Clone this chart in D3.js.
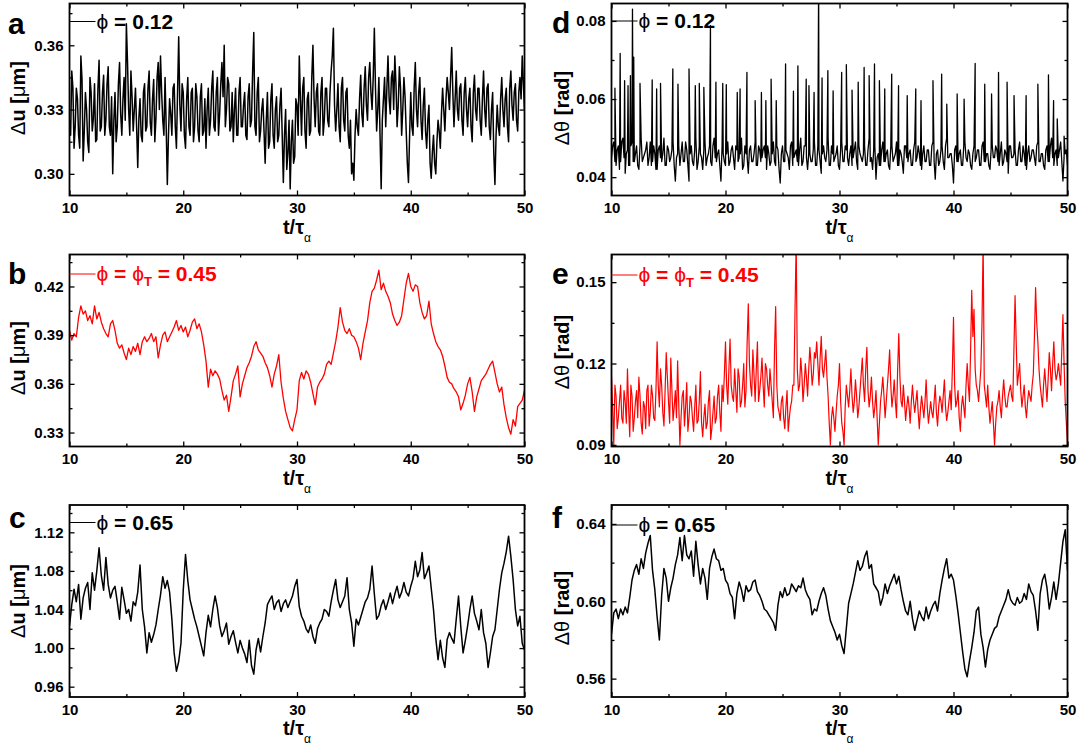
<!DOCTYPE html>
<html><head><meta charset="utf-8">
<script src="https://cdn.jsdelivr.net/npm/d3@7"></script>
<style>body{margin:0;background:#fff} svg text{font-family:"Liberation Sans",Arial,Helvetica,sans-serif}</style>
</head><body><svg id="chart" width="1080" height="749"></svg>
<script>
const T_START = 10, T_END = 50;
const xTicks = [10, 20, 30, 40, 50];
const xMinorTicks = [15, 25, 35, 45];

// panel a: Δu, φ = 0.12 — samples at t = 10, 10.2, ... 50
const seriesA = [
0.325,0.348,0.312,0.340,0.318,0.355,0.306,0.338,0.315,0.345,
0.320,0.342,0.316,0.353,0.322,0.346,0.325,0.350,0.318,0.300,
0.338,0.322,0.352,0.318,0.345,0.370,0.330,0.348,0.320,0.340,
0.303,0.335,0.315,0.342,0.322,0.348,0.318,0.344,0.326,0.352,
0.355,0.325,0.345,0.295,0.335,0.318,0.342,0.312,0.364,0.320,
0.338,0.312,0.345,0.318,0.340,0.322,0.336,0.315,0.342,0.320,
0.312,0.340,0.325,0.348,0.320,0.345,0.328,0.352,0.360,0.330,
0.342,0.322,0.315,0.340,0.318,0.345,0.322,0.338,0.316,0.342,
0.325,0.366,0.318,0.345,0.320,0.335,0.305,0.338,0.315,0.342,
0.312,0.336,0.318,0.340,0.296,0.330,0.310,0.293,0.325,0.308,
0.332,0.355,0.318,0.345,0.312,0.338,0.320,0.360,0.322,0.342,
0.318,0.345,0.325,0.340,0.322,0.348,0.368,0.320,0.342,0.315,
0.345,0.320,0.340,0.312,0.300,0.297,0.330,0.318,0.346,0.322,
0.350,0.325,0.352,0.330,0.368,0.320,0.345,0.293,0.335,0.322,
0.355,0.328,0.348,0.355,0.322,0.350,0.318,0.345,0.320,0.296,
0.338,0.318,0.352,0.322,0.345,0.316,0.340,0.312,0.332,0.298,
0.318,0.300,0.325,0.312,0.340,0.320,0.345,0.330,0.359,0.322,
0.348,0.325,0.342,0.318,0.345,0.322,0.340,0.315,0.346,0.325,
0.340,0.318,0.348,0.322,0.342,0.316,0.338,0.295,0.332,0.318,
0.345,0.322,0.340,0.315,0.348,0.325,0.342,0.320,0.345,0.355,0.330];
// panel a, in-between samples at t = 10.1, 10.3, ... 49.9
const seriesAMid = [
0.318,0.340,0.322,0.335,0.312,0.344,0.320,0.330,0.310,0.338,
0.326,0.315,0.340,0.320,0.338,0.318,0.342,0.322,0.336,0.325,
0.315,0.342,0.328,0.335,0.325,0.352,0.318,0.336,0.330,0.322,
0.326,0.318,0.338,0.320,0.340,0.324,0.335,0.315,0.345,0.330,
0.338,0.318,0.322,0.318,0.328,0.340,0.322,0.338,0.332,0.342,
0.318,0.335,0.322,0.338,0.315,0.342,0.320,0.336,0.318,0.335,
0.330,0.318,0.340,0.322,0.338,0.318,0.342,0.336,0.322,0.345,
0.320,0.338,0.330,0.318,0.338,0.322,0.332,0.318,0.336,0.322,
0.348,0.322,0.338,0.315,0.330,0.320,0.325,0.312,0.335,0.318,
0.330,0.315,0.332,0.318,0.318,0.302,0.325,0.315,0.305,0.335,
0.318,0.335,0.340,0.320,0.335,0.318,0.345,0.335,0.338,0.320,
0.338,0.318,0.340,0.325,0.338,0.355,0.332,0.330,0.322,0.340,
0.325,0.338,0.318,0.325,0.305,0.318,0.322,0.335,0.328,0.340,
0.332,0.345,0.338,0.345,0.340,0.330,0.318,0.325,0.345,0.340,
0.335,0.345,0.330,0.342,0.332,0.340,0.330,0.336,0.305,0.318,
0.322,0.340,0.330,0.338,0.325,0.332,0.320,0.325,0.305,0.310,
0.305,0.315,0.320,0.328,0.330,0.335,0.338,0.345,0.338,0.335,
0.330,0.340,0.325,0.338,0.330,0.335,0.322,0.338,0.330,0.340,
0.325,0.335,0.330,0.340,0.322,0.330,0.310,0.318,0.322,0.335,
0.330,0.335,0.322,0.340,0.332,0.338,0.325,0.338,0.335,0.342];

// panel b: Δu, φ = φT = 0.45
const seriesB = [
0.393,0.387,0.391,0.389,0.401,0.408,0.403,0.405,0.399,0.402,
0.397,0.408,0.400,0.404,0.398,0.394,0.391,0.389,0.397,0.399,
0.393,0.385,0.382,0.384,0.379,0.375,0.382,0.378,0.383,0.380,
0.385,0.378,0.386,0.389,0.386,0.388,0.391,0.386,0.389,0.376,
0.384,0.390,0.392,0.386,0.389,0.392,0.395,0.399,0.393,0.396,
0.392,0.395,0.389,0.393,0.398,0.400,0.394,0.397,0.392,0.384,
0.374,0.358,0.369,0.365,0.368,0.366,0.363,0.356,0.350,0.353,
0.343,0.352,0.362,0.366,0.371,0.352,0.360,0.365,0.370,0.373,
0.377,0.383,0.386,0.381,0.379,0.377,0.373,0.370,0.365,0.358,
0.366,0.371,0.378,0.361,0.351,0.343,0.338,0.333,0.331,0.338,
0.344,0.362,0.367,0.363,0.368,0.366,0.361,0.354,0.347,0.358,
0.361,0.363,0.366,0.372,0.374,0.372,0.379,0.386,0.395,0.407,
0.398,0.393,0.391,0.394,0.390,0.389,0.386,0.382,0.375,0.385,
0.392,0.399,0.410,0.417,0.419,0.424,0.430,0.418,0.422,0.417,
0.414,0.410,0.403,0.399,0.396,0.398,0.402,0.412,0.422,0.428,
0.420,0.417,0.421,0.420,0.410,0.404,0.400,0.402,0.411,0.397,
0.391,0.386,0.383,0.381,0.377,0.371,0.364,0.361,0.360,0.357,
0.355,0.352,0.344,0.348,0.353,0.360,0.364,0.355,0.343,0.352,
0.357,0.362,0.364,0.366,0.369,0.372,0.374,0.367,0.360,0.355,
0.358,0.347,0.339,0.333,0.329,0.338,0.334,0.346,0.348,0.350,0.356];

// panel c: Δu, φ = 0.65
const seriesC = [
1.023,1.045,1.061,1.048,1.066,1.030,1.052,1.062,1.068,1.040,
1.078,1.060,1.080,1.104,1.075,1.060,1.094,1.066,1.052,1.060,
1.064,1.048,1.030,1.063,1.050,1.036,1.040,1.028,1.048,1.044,
1.058,1.086,1.040,1.022,0.995,1.016,1.006,1.014,1.024,1.040,
1.055,1.074,1.062,1.070,1.058,1.030,0.995,0.976,0.986,1.005,
1.060,1.097,1.070,1.050,1.040,1.030,1.022,1.012,1.002,0.992,
1.016,1.034,1.022,1.040,1.054,1.042,1.023,1.012,1.018,1.026,
1.004,1.012,1.018,1.006,0.995,1.008,1.000,0.994,0.985,1.008,
0.982,0.973,0.998,1.010,0.996,1.012,1.026,1.045,1.050,1.054,
1.040,1.047,1.050,1.038,1.046,1.050,1.042,1.048,1.054,1.064,
1.071,1.043,1.033,1.028,1.020,1.016,1.024,1.012,1.005,1.020,
1.026,1.030,1.040,1.038,1.033,1.048,1.060,1.071,1.050,1.042,
1.048,1.054,1.073,1.040,1.026,1.002,1.030,1.024,1.032,1.040,
1.048,1.052,1.061,1.085,1.056,1.030,1.034,1.044,1.050,1.040,
1.048,1.057,1.046,1.056,1.064,1.052,1.058,1.068,1.058,1.054,
1.064,1.072,1.090,1.074,1.081,1.099,1.072,1.078,1.085,1.062,
1.040,1.010,0.988,1.008,0.990,0.980,1.009,1.016,1.010,1.005,
1.030,1.054,1.022,0.995,1.008,1.023,1.040,1.054,1.036,1.028,
1.019,1.040,1.016,1.005,0.980,0.995,1.012,1.019,1.040,1.061,
1.078,1.088,1.100,1.116,1.095,1.071,1.040,1.023,1.033,1.005,0.998];

// panel d: Δθ, φ = 0.12 (baseline noise + sharp spikes)
const seriesDBase = [
0.045,0.049,0.043,0.048,0.044,0.050,0.041,0.047,0.043,0.049,
0.044,0.048,0.042,0.050,0.045,0.047,0.043,0.049,0.044,0.046,
0.042,0.048,0.044,0.050,0.043,0.047,0.045,0.049,0.039,0.046,
0.043,0.049,0.044,0.047,0.039,0.048,0.043,0.050,0.044,0.046,
0.042,0.049,0.045,0.048,0.043,0.050,0.044,0.047,0.039,0.046,
0.043,0.049,0.044,0.048,0.042,0.047,0.045,0.050,0.043,0.046,
0.041,0.048,0.044,0.049,0.043,0.047,0.045,0.048,0.042,0.046,
0.044,0.049,0.043,0.047,0.0385,0.048,0.044,0.046,0.042,0.049,
0.045,0.047,0.043,0.050,0.044,0.048,0.042,0.046,0.044,0.049,
0.043,0.047,0.041,0.048,0.044,0.050,0.043,0.046,0.045,0.048,
0.042,0.049,0.044,0.047,0.043,0.048,0.045,0.049,0.042,0.046,
0.044,0.048,0.043,0.050,0.045,0.047,0.0395,0.046,0.043,0.049,
0.044,0.047,0.042,0.048,0.045,0.049,0.043,0.046,0.041,0.048,
0.044,0.047,0.043,0.049,0.045,0.046,0.042,0.048,0.044,0.047,
0.043,0.049,0.0395,0.047,0.044,0.048,0.042,0.050,0.045,0.046,
0.0385,0.048,0.044,0.047,0.043,0.049,0.044,0.046,0.042,0.048,
0.045,0.047,0.043,0.049,0.044,0.046,0.042,0.048,0.045,0.047,
0.043,0.049,0.044,0.046,0.041,0.048,0.045,0.047,0.043,0.049,
0.044,0.046,0.042,0.048,0.045,0.047,0.043,0.049,0.044,0.046,
0.042,0.048,0.044,0.050,0.043,0.047,0.045,0.049,0.039,0.046,0.043];
const seriesDMid = [
0.048,0.044,0.047,0.042,0.049,0.045,0.046,0.043,0.048,0.044,
0.046,0.043,0.048,0.044,0.046,0.049,0.045,0.043,0.048,0.042,
0.047,0.045,0.046,0.043,0.048,0.044,0.047,0.043,0.045,0.048,
0.046,0.044,0.049,0.043,0.046,0.044,0.047,0.042,0.048,0.045,
0.047,0.043,0.046,0.044,0.048,0.045,0.046,0.043,0.048,0.044,
0.046,0.043,0.047,0.045,0.048,0.044,0.046,0.042,0.048,0.045,
0.047,0.044,0.046,0.043,0.048,0.044,0.047,0.045,0.048,0.043,
0.046,0.044,0.048,0.042,0.046,0.044,0.047,0.045,0.048,0.043,
0.046,0.044,0.047,0.043,0.048,0.045,0.046,0.044,0.047,0.043,
0.048,0.044,0.046,0.045,0.047,0.043,0.048,0.044,0.046,0.043,
0.047,0.044,0.048,0.045,0.046,0.043,0.047,0.044,0.048,0.045,
0.046,0.043,0.047,0.044,0.042,0.048,0.045,0.043,0.047,0.044,
0.046,0.043,0.048,0.044,0.046,0.043,0.047,0.044,0.048,0.045,
0.046,0.043,0.047,0.044,0.048,0.043,0.046,0.044,0.047,0.043,
0.048,0.044,0.046,0.043,0.047,0.044,0.048,0.045,0.046,0.043,
0.047,0.044,0.046,0.043,0.048,0.045,0.047,0.043,0.046,0.044,
0.047,0.043,0.048,0.044,0.046,0.043,0.047,0.045,0.048,0.044,
0.046,0.043,0.047,0.044,0.048,0.045,0.046,0.043,0.047,0.044,
0.048,0.043,0.046,0.044,0.047,0.045,0.048,0.044,0.046,0.043,
0.047,0.044,0.048,0.045,0.046,0.043,0.047,0.044,0.045,0.047];
const spikesD = [
[10.3,0.0628],[10.76,0.0717],[11.15,0.0647],[11.45,0.0634],[11.66,0.066],[11.84,0.083],[11.95,0.0707],
[12.5,0.064],[13.57,0.0649],[13.96,0.0626],[14.3,0.064],[15.38,0.0677],[15.83,0.0638],[16.8,0.0677],
[17.35,0.0634],[17.7,0.064],[18.1,0.063],[18.68,0.0788],[19.16,0.0643],[19.76,0.064],[20.07,0.0637],
[21.03,0.0617],[21.28,0.0626],[21.88,0.0668],[22.6,0.0596],[23.15,0.0617],[23.54,0.0596],[24.0,0.0651],
[24.45,0.0596],[25.27,0.069],[25.96,0.062],[26.35,0.0685],[27.08,0.0651],[27.32,0.0634],[27.77,0.0617],
[28.17,0.09],[28.47,0.0654],[28.98,0.0673],[29.44,0.0621],[30.19,0.0668],[30.6,0.0688],[31.1,0.0623],
[31.64,0.0643],[32.16,0.0681],[32.6,0.066],[33.07,0.069],[33.5,0.0647],[33.97,0.0626],[34.58,0.0664],
[35.18,0.0634],[35.94,0.0609],[36.69,0.0626],[37.15,0.0596],[38.2,0.0647],[38.96,0.0664],[39.41,0.0587],
[40.32,0.0613],[40.93,0.06],[41.9,0.0691],[42.74,0.0638],[43.34,0.0613],[43.95,0.0668],[44.7,0.0643],
[45.31,0.0609],[46.37,0.0609],[47.4,0.0638],[48.33,0.0662],[48.78,0.0596],[49.1,0.0549],[49.7,0.0505]];

// panel e: Δθ, φ = φT = 0.45
const seriesE = [
0.115,0.090,0.108,0.100,0.112,0.098,0.106,0.118,0.093,0.108,
0.100,0.110,0.115,0.098,0.106,0.096,0.112,0.102,0.108,0.099,
0.128,0.104,0.112,0.097,0.124,0.106,0.122,0.099,0.110,0.121,
0.090,0.108,0.097,0.113,0.100,0.106,0.095,0.112,0.099,0.117,
0.093,0.105,0.098,0.110,0.096,0.108,0.100,0.112,0.095,0.106,
0.128,0.105,0.129,0.108,0.118,0.102,0.115,0.106,0.120,0.110,
0.142,0.112,0.125,0.106,0.128,0.110,0.122,0.104,0.118,0.108,
0.112,0.100,0.141,0.104,0.099,0.108,0.096,0.110,0.100,0.106,
0.112,0.165,0.110,0.122,0.106,0.120,0.108,0.126,0.112,0.124,
0.128,0.112,0.130,0.115,0.125,0.108,0.090,0.104,0.095,0.108,
0.120,0.098,0.090,0.112,0.104,0.118,0.102,0.114,0.100,0.110,
0.122,0.106,0.126,0.104,0.115,0.100,0.110,0.090,0.106,0.115,
0.100,0.112,0.125,0.104,0.114,0.100,0.131,0.106,0.112,0.099,
0.108,0.098,0.112,0.102,0.110,0.096,0.108,0.100,0.114,0.098,
0.106,0.100,0.112,0.097,0.108,0.102,0.114,0.099,0.106,0.103,
0.137,0.104,0.110,0.095,0.108,0.100,0.120,0.106,0.147,0.140,
0.112,0.106,0.118,0.165,0.108,0.112,0.098,0.106,0.090,0.104,
0.110,0.100,0.114,0.104,0.108,0.112,0.106,0.145,0.112,0.120,
0.104,0.112,0.100,0.110,0.106,0.116,0.148,0.128,0.112,0.104,
0.118,0.106,0.124,0.110,0.128,0.114,0.120,0.112,0.138,0.106,0.090];
const seriesEMid = [
0.104,0.112,0.096,0.106,0.100,0.110,0.098,0.104,0.112,0.095,
0.106,0.100,0.108,0.094,0.104,0.110,0.097,0.112,0.100,0.110,
0.112,0.118,0.102,0.110,0.115,0.098,0.110,0.104,0.100,0.105,
0.100,0.110,0.104,0.095,0.108,0.100,0.104,0.098,0.106,0.098,
0.100,0.096,0.106,0.092,0.102,0.098,0.108,0.102,0.112,0.116,
0.112,0.118,0.112,0.106,0.110,0.118,0.104,0.112,0.104,0.128,
0.120,0.108,0.116,0.118,0.106,0.115,0.112,0.120,0.112,0.118,
0.106,0.125,0.112,0.102,0.106,0.100,0.104,0.095,0.104,0.112,
0.140,0.118,0.112,0.116,0.112,0.115,0.118,0.120,0.116,0.122,
0.120,0.122,0.118,0.120,0.115,0.098,0.100,0.100,0.102,0.112,
0.106,0.095,0.104,0.108,0.110,0.108,0.106,0.108,0.104,0.116,
0.112,0.118,0.110,0.108,0.106,0.104,0.100,0.098,0.110,0.108,
0.106,0.118,0.112,0.108,0.106,0.118,0.115,0.104,0.106,0.104,
0.104,0.106,0.106,0.106,0.102,0.103,0.104,0.106,0.104,0.102,
0.102,0.106,0.102,0.104,0.106,0.108,0.104,0.102,0.110,0.118,
0.112,0.106,0.100,0.104,0.104,0.112,0.112,0.125,0.130,0.118,
0.110,0.112,0.135,0.112,0.104,0.104,0.102,0.098,0.098,0.106,
0.104,0.108,0.108,0.104,0.110,0.108,0.125,0.128,0.116,0.110,
0.108,0.104,0.106,0.108,0.112,0.130,0.135,0.118,0.108,0.112,
0.112,0.114,0.118,0.120,0.118,0.116,0.116,0.125,0.120,0.098];

// panel f: Δθ, φ = 0.65
const seriesF = [
0.583,0.594,0.596,0.591,0.596,0.593,0.597,0.594,0.602,0.611,
0.616,0.619,0.614,0.622,0.617,0.625,0.630,0.634,0.616,0.606,
0.592,0.580,0.603,0.617,0.612,0.600,0.607,0.612,0.619,0.624,
0.633,0.621,0.634,0.624,0.622,0.626,0.613,0.631,0.619,0.609,
0.617,0.612,0.601,0.617,0.623,0.627,0.622,0.621,0.616,0.617,
0.611,0.609,0.604,0.602,0.591,0.604,0.610,0.606,0.600,0.608,
0.605,0.606,0.610,0.611,0.605,0.603,0.600,0.596,0.595,0.593,
0.591,0.589,0.585,0.598,0.605,0.602,0.607,0.603,0.604,0.609,
0.607,0.605,0.608,0.607,0.612,0.606,0.603,0.601,0.593,0.596,
0.595,0.600,0.604,0.607,0.603,0.596,0.590,0.587,0.584,0.580,
0.583,0.577,0.573,0.586,0.599,0.604,0.609,0.615,0.621,0.616,
0.618,0.623,0.626,0.617,0.619,0.609,0.607,0.605,0.598,0.602,
0.609,0.604,0.608,0.611,0.614,0.609,0.613,0.606,0.600,0.595,
0.593,0.600,0.591,0.585,0.590,0.595,0.592,0.590,0.597,0.591,
0.595,0.598,0.600,0.595,0.604,0.611,0.617,0.622,0.612,0.614,
0.611,0.603,0.594,0.584,0.574,0.565,0.561,0.569,0.576,0.584,
0.595,0.597,0.583,0.576,0.566,0.575,0.580,0.583,0.586,0.587,
0.592,0.595,0.598,0.601,0.606,0.601,0.599,0.598,0.602,0.599,
0.600,0.604,0.601,0.609,0.605,0.603,0.595,0.585,0.604,0.611,
0.614,0.607,0.596,0.602,0.610,0.601,0.609,0.620,0.631,0.637,0.616];

const ticksA = [0.30,0.33,0.36], minorA = [0.315,0.345,0.375];
const ticksB = [0.33,0.36,0.39,0.42], minorB = [0.345,0.375,0.405,0.435];
const ticksC = [0.96,1.00,1.04,1.08,1.12], minorC = [0.98,1.02,1.06,1.10,1.14];
const ticksD = [0.04,0.06,0.08], minorD = [0.05,0.07];
const ticksE = [0.09,0.12,0.15], minorE = [0.105,0.135];
const ticksF = [0.56,0.60,0.64], minorF = [0.58,0.62];

const legendA = "0.12", legendB = "0.45", legendC = "0.65";

// ---------- layout ----------
const COLS = [[69.5, 524.5], [611.5, 1067.5]];
const ROWS = [[3.5, 195.5], [254.5, 446.5], [505, 697]];
const FONT = '"Liberation Sans",Arial,Helvetica,sans-serif';

function build(base, mid, spikes) {
  const n = base.length, step = (T_END - T_START) / (n - 1);
  let pts = base.map((v, i) => ({ t: T_START + i * step, v }));
  if (mid) pts = pts.concat(mid.map((v, i) => ({ t: T_START + (i + 0.5) * step, v })));
  if (spikes) pts = pts.concat(spikes.map(s => ({ t: s[0], v: s[1] })));
  return pts.sort((a, b) => a.t - b.t);
}

const panels = [
  { id: 'a', col: 0, row: 0, pts: build(seriesA, seriesAMid), dom: [0.2899, 0.3795], ticks: ticksA, minor: minorA, color: '#000', sw: 1.5, leg: 'plain', legVal: legendA, quant: 'u', ylc: 98, legDy: 18, letterDy: 30, letterX: 8 },
  { id: 'b', col: 0, row: 1, pts: build(seriesB), dom: [0.3214, 0.4397], ticks: ticksB, minor: minorB, color: '#ff0000', sw: 1.3, leg: 'T', legVal: legendB, quant: 'u', ylc: 358, legDy: 19.5, letterDy: 29, letterX: 8 },
  { id: 'c', col: 0, row: 2, pts: build(seriesC), dom: [0.9493, 1.1483], ticks: ticksC, minor: minorC, color: '#000', sw: 1.5, leg: 'plain', legVal: legendC, quant: 'u', ylc: 601, legDy: 17.5, letterDy: 23, letterX: 9 },
  { id: 'd', col: 1, row: 0, pts: build(seriesDBase, seriesDMid, spikesD), dom: [0.03531, 0.08446], ticks: ticksD, minor: minorD, color: '#000', sw: 1.3, leg: 'plain', legVal: legendA, quant: 'th', ylc: 108, legDy: 17.5, letterDy: 29, letterX: 552 },
  { id: 'e', col: 1, row: 1, pts: build(seriesE, seriesEMid), dom: [0.0894, 0.1602], ticks: ticksE, minor: minorE, color: '#ff0000', sw: 1.2, leg: 'T', legVal: legendB, quant: 'th', ylc: 352, legDy: 20.5, letterDy: 29, letterX: 552 },
  { id: 'f', col: 1, row: 2, pts: build(seriesF), dom: [0.5505, 0.6498], ticks: ticksF, minor: minorF, color: '#000', sw: 1.5, leg: 'plain', legVal: legendC, quant: 'th', ylc: 608, legDy: 20, letterDy: 23, letterX: 552 }
];

const svg = d3.select('#chart');
const defs = svg.append('defs');

function styleAxis(g, size) {
  g.select('.domain').remove();
  g.selectAll('.tick line').attr('stroke', '#000').attr('stroke-width', 1.3);
  g.attr('font-family', FONT).attr('font-size', size).attr('font-weight', 'bold');
  g.selectAll('.tick text').attr('fill', '#000');
}

panels.forEach(p => {
  const [x0, x1] = COLS[p.col];
  const [y0, y1] = ROWS[p.row];
  const x = d3.scaleLinear().domain([T_START, T_END]).range([x0, x1]);
  const y = d3.scaleLinear().domain(p.dom).range([y1, y0]);
  const g = svg.append('g');

  defs.append('clipPath').attr('id', 'clip-' + p.id)
    .append('rect').attr('x', x0).attr('y', y0).attr('width', x1 - x0).attr('height', y1 - y0);

  const line = d3.line().x(d => x(d.t)).y(d => y(d.v));
  g.append('path').datum(p.pts)
    .attr('clip-path', 'url(#clip-' + p.id + ')')
    .attr('fill', 'none').attr('stroke', p.color).attr('stroke-width', p.sw)
    .attr('stroke-linejoin', 'round').attr('d', line);

  const fmt = d3.format('.2f');
  const inDom = v => v >= p.dom[0] && v <= p.dom[1];
  styleAxis(g.append('g').attr('transform', `translate(0,${y1})`)
    .call(d3.axisBottom(x).tickValues(xTicks).tickSize(-5).tickPadding(7).tickFormat(d3.format('d'))), 15);
  styleAxis(g.append('g').attr('transform', `translate(0,${y1})`)
    .call(d3.axisBottom(x).tickValues(xMinorTicks).tickSize(-3).tickFormat('')), 15);
  styleAxis(g.append('g').attr('transform', `translate(0,${y0})`)
    .call(d3.axisTop(x).tickValues(xTicks).tickSize(-5).tickFormat('')), 15);
  styleAxis(g.append('g').attr('transform', `translate(0,${y0})`)
    .call(d3.axisTop(x).tickValues(xMinorTicks).tickSize(-3).tickFormat('')), 15);
  styleAxis(g.append('g').attr('transform', `translate(${x0},0)`)
    .call(d3.axisLeft(y).tickValues(p.ticks).tickSize(-5).tickPadding(6).tickFormat(fmt)), 15);
  styleAxis(g.append('g').attr('transform', `translate(${x0},0)`)
    .call(d3.axisLeft(y).tickValues(p.minor.filter(inDom)).tickSize(-3).tickFormat('')), 15);
  styleAxis(g.append('g').attr('transform', `translate(${x1},0)`)
    .call(d3.axisRight(y).tickValues(p.ticks).tickSize(-5).tickFormat('')), 15);
  styleAxis(g.append('g').attr('transform', `translate(${x1},0)`)
    .call(d3.axisRight(y).tickValues(p.minor.filter(inDom)).tickSize(-3).tickFormat('')), 15);

  g.append('rect').attr('x', x0).attr('y', y0).attr('width', x1 - x0).attr('height', y1 - y0)
    .attr('fill', 'none').attr('stroke', '#000').attr('stroke-width', 1.8);

  const xt = g.append('text').attr('x', (x0 + x1) / 2).attr('y', y1 + 38)
    .attr('text-anchor', 'middle').attr('font-size', 20).attr('font-weight', 'bold').attr('fill', '#000');
  xt.append('tspan').text('t/τ');
  xt.append('tspan').attr('font-size', 12).attr('font-weight', 'normal').attr('dy', 8).text('α');

  const ylx = p.col === 0 ? 25 : 569;
  const yt = g.append('text').attr('transform', `translate(${ylx},${p.ylc}) rotate(-90)`)
    .attr('text-anchor', 'middle').attr('font-size', 20).attr('font-weight', 'bold').attr('fill', '#000');
  if (p.quant === 'u') {
    yt.append('tspan').attr('font-weight', 'normal').text('Δ');
    yt.append('tspan').text('u [');
    yt.append('tspan').attr('font-weight', 'normal').text('μ');
    yt.append('tspan').text('m]');
  } else {
    yt.append('tspan').attr('font-weight', 'normal').text('Δθ');
    yt.append('tspan').text(' [rad]');
  }

  g.append('text').attr('x', p.letterX).attr('y', y0 + p.letterDy)
    .attr('font-size', 30).attr('font-weight', 'bold').attr('fill', '#000').text(p.id);

  const legY = y0 + p.legDy;
  g.append('line').attr('x1', x0).attr('x2', x0 + 26).attr('y1', legY).attr('y2', legY)
    .attr('stroke', p.color).attr('stroke-width', 1);
  const lt = g.append('text').attr('x', x0 + 27).attr('y', legY + 7)
    .attr('font-size', 21).attr('font-weight', 'bold').attr('fill', p.color);
  lt.append('tspan').attr('font-weight', 'normal').text('ϕ');
  if (p.leg === 'T') {
    lt.append('tspan').text(' = ');
    lt.append('tspan').attr('font-weight', 'normal').text('ϕ');
    lt.append('tspan').attr('font-size', 13).attr('dy', 5).text('T');
    lt.append('tspan').attr('dy', -5).text(' = ' + p.legVal);
  } else {
    lt.append('tspan').text(' = ' + p.legVal);
  }
});
</script>
</body></html>
